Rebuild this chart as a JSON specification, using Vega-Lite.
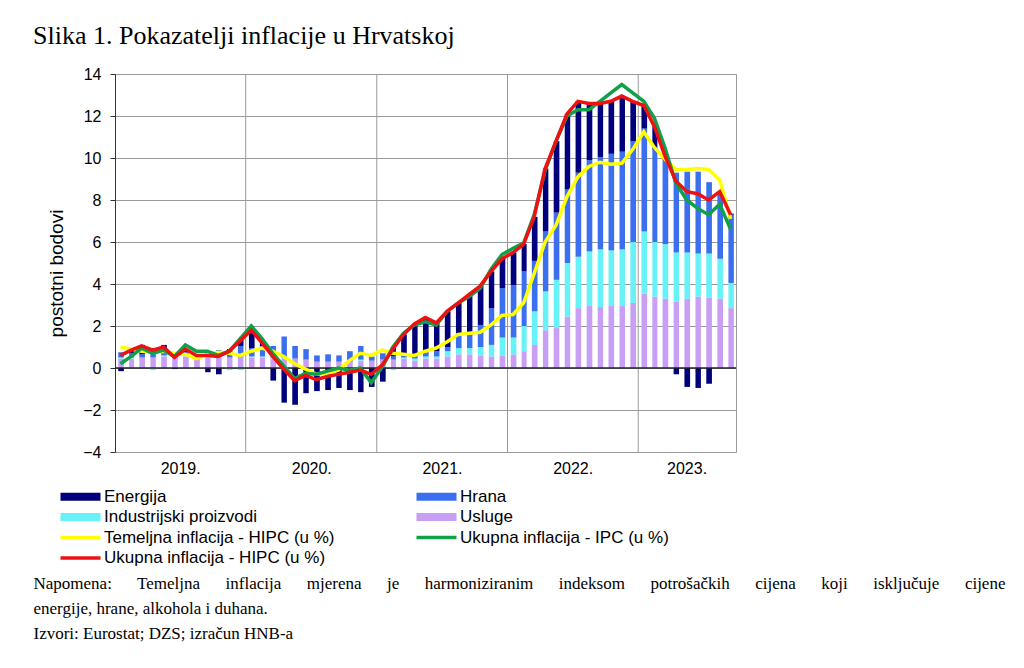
{
  "$schema": "https://vega.github.io/schema/vega-lite/v6.json",
  "width": 621,
  "height": 378,
  "autosize": "none",
  "padding": {"left": 115, "top": 74, "right": 288, "bottom": 216},
  "background": "white",
  "title": {
    "text": "Slika 1. Pokazatelji inflacije u Hrvatskoj",
    "anchor": "start",
    "frame": "group",
    "dx": -82,
    "offset": 17,
    "font": "Liberation Serif",
    "fontSize": 26,
    "fontWeight": "normal",
    "color": "black"
  },
  "data": {
    "values": [
      {"m": "2019-01-01", "Energija": -0.15, "Hrana": 0.25, "Industrijski proizvodi": 0.05, "Usluge": 0.45, "temeljna": 1.0, "ipc": 0.2, "hipc": 0.6},
      {"m": "2019-02-01", "Energija": 0.15, "Hrana": 0.2, "Industrijski proizvodi": 0.05, "Usluge": 0.45, "temeljna": 0.9, "ipc": 0.55, "hipc": 0.85},
      {"m": "2019-03-01", "Energija": 0.45, "Hrana": 0.15, "Industrijski proizvodi": 0.0, "Usluge": 0.5, "temeljna": 0.8, "ipc": 0.95, "hipc": 1.05},
      {"m": "2019-04-01", "Energija": 0.25, "Hrana": 0.2, "Industrijski proizvodi": -0.1, "Usluge": 0.5, "temeljna": 0.75, "ipc": 0.7, "hipc": 0.85},
      {"m": "2019-05-01", "Energija": 0.4, "Hrana": 0.1, "Industrijski proizvodi": 0.05, "Usluge": 0.55, "temeljna": 0.8, "ipc": 0.85, "hipc": 1.0},
      {"m": "2019-06-01", "Energija": -0.05, "Hrana": 0.1, "Industrijski proizvodi": 0.0, "Usluge": 0.5, "temeljna": 0.7, "ipc": 0.55, "hipc": 0.5},
      {"m": "2019-07-01", "Energija": 0.1, "Hrana": 0.15, "Industrijski proizvodi": 0.05, "Usluge": 0.55, "temeljna": 0.65, "ipc": 1.1, "hipc": 0.9},
      {"m": "2019-08-01", "Energija": 0.05, "Hrana": 0.1, "Industrijski proizvodi": 0.0, "Usluge": 0.45, "temeljna": 0.45, "ipc": 0.8, "hipc": 0.6},
      {"m": "2019-09-01", "Energija": -0.2, "Hrana": 0.25, "Industrijski proizvodi": 0.05, "Usluge": 0.5, "temeljna": 0.65, "ipc": 0.8, "hipc": 0.6},
      {"m": "2019-10-01", "Energija": -0.3, "Hrana": 0.3, "Industrijski proizvodi": 0.05, "Usluge": 0.5, "temeljna": 0.75, "ipc": 0.6, "hipc": 0.55},
      {"m": "2019-11-01", "Energija": 0.05, "Hrana": 0.35, "Industrijski proizvodi": -0.1, "Usluge": 0.5, "temeljna": 0.7, "ipc": 0.8, "hipc": 0.8},
      {"m": "2019-12-01", "Energija": 0.3, "Hrana": 0.5, "Industrijski proizvodi": -0.1, "Usluge": 0.55, "temeljna": 0.6, "ipc": 1.4, "hipc": 1.3},
      {"m": "2020-01-01", "Energija": 0.85, "Hrana": 0.4, "Industrijski proizvodi": 0.05, "Usluge": 0.5, "temeljna": 0.8, "ipc": 2.0, "hipc": 1.8},
      {"m": "2020-02-01", "Energija": 0.2, "Hrana": 0.5, "Industrijski proizvodi": 0.05, "Usluge": 0.5, "temeljna": 0.95, "ipc": 1.4, "hipc": 1.2},
      {"m": "2020-03-01", "Energija": -0.6, "Hrana": 0.55, "Industrijski proizvodi": 0.05, "Usluge": 0.45, "temeljna": 0.8, "ipc": 0.7, "hipc": 0.55},
      {"m": "2020-04-01", "Energija": -1.65, "Hrana": 1.0, "Industrijski proizvodi": 0.05, "Usluge": 0.45, "temeljna": 0.55, "ipc": 0.1, "hipc": -0.05},
      {"m": "2020-05-01", "Energija": -1.75, "Hrana": 0.6, "Industrijski proizvodi": 0.0, "Usluge": 0.45, "temeljna": 0.2, "ipc": -0.5, "hipc": -0.6},
      {"m": "2020-06-01", "Energija": -1.2, "Hrana": 0.5, "Industrijski proizvodi": 0.0, "Usluge": 0.4, "temeljna": -0.05, "ipc": -0.25, "hipc": -0.35},
      {"m": "2020-07-01", "Energija": -1.1, "Hrana": 0.3, "Industrijski proizvodi": 0.0, "Usluge": 0.3, "temeljna": -0.3, "ipc": -0.3, "hipc": -0.55},
      {"m": "2020-08-01", "Energija": -1.05, "Hrana": 0.35, "Industrijski proizvodi": 0.0, "Usluge": 0.3, "temeljna": -0.25, "ipc": -0.15, "hipc": -0.4},
      {"m": "2020-09-01", "Energija": -0.95, "Hrana": 0.3, "Industrijski proizvodi": 0.0, "Usluge": 0.3, "temeljna": -0.1, "ipc": 0.0, "hipc": -0.3},
      {"m": "2020-10-01", "Energija": -1.05, "Hrana": 0.5, "Industrijski proizvodi": 0.0, "Usluge": 0.3, "temeljna": 0.35, "ipc": -0.1, "hipc": -0.2},
      {"m": "2020-11-01", "Energija": -1.15, "Hrana": 0.65, "Industrijski proizvodi": 0.05, "Usluge": 0.35, "temeljna": 0.7, "ipc": 0.0, "hipc": -0.1},
      {"m": "2020-12-01", "Energija": -0.9, "Hrana": 0.2, "Industrijski proizvodi": 0.0, "Usluge": 0.35, "temeljna": 0.6, "ipc": -0.7, "hipc": -0.3},
      {"m": "2021-01-01", "Energija": -0.65, "Hrana": 0.3, "Industrijski proizvodi": 0.0, "Usluge": 0.4, "temeljna": 0.85, "ipc": 0.05, "hipc": 0.15},
      {"m": "2021-02-01", "Energija": 0.45, "Hrana": 0.15, "Industrijski proizvodi": -0.1, "Usluge": 0.4, "temeljna": 0.7, "ipc": 1.0, "hipc": 0.9},
      {"m": "2021-03-01", "Energija": 1.0, "Hrana": 0.1, "Industrijski proizvodi": 0.05, "Usluge": 0.45, "temeljna": 0.65, "ipc": 1.65, "hipc": 1.6},
      {"m": "2021-04-01", "Energija": 1.5, "Hrana": 0.15, "Industrijski proizvodi": 0.1, "Usluge": 0.35, "temeljna": 0.6, "ipc": 2.05, "hipc": 2.1},
      {"m": "2021-05-01", "Energija": 1.65, "Hrana": 0.2, "Industrijski proizvodi": 0.1, "Usluge": 0.45, "temeljna": 0.8, "ipc": 2.2, "hipc": 2.4},
      {"m": "2021-06-01", "Energija": 1.35, "Hrana": 0.25, "Industrijski proizvodi": 0.1, "Usluge": 0.45, "temeljna": 0.95, "ipc": 2.05, "hipc": 2.15},
      {"m": "2021-07-01", "Energija": 1.7, "Hrana": 0.2, "Industrijski proizvodi": 0.25, "Usluge": 0.55, "temeljna": 1.25, "ipc": 2.7, "hipc": 2.7},
      {"m": "2021-08-01", "Energija": 1.45, "Hrana": 0.7, "Industrijski proizvodi": 0.3, "Usluge": 0.65, "temeljna": 1.6, "ipc": 3.1, "hipc": 3.1},
      {"m": "2021-09-01", "Energija": 1.9, "Hrana": 0.65, "Industrijski proizvodi": 0.3, "Usluge": 0.65, "temeljna": 1.65, "ipc": 3.4, "hipc": 3.5},
      {"m": "2021-10-01", "Energija": 1.85, "Hrana": 1.05, "Industrijski proizvodi": 0.4, "Usluge": 0.6, "temeljna": 1.7, "ipc": 3.8, "hipc": 3.9},
      {"m": "2021-11-01", "Energija": 1.75, "Hrana": 1.75, "Industrijski proizvodi": 0.55, "Usluge": 0.55, "temeljna": 2.05, "ipc": 4.7, "hipc": 4.6},
      {"m": "2021-12-01", "Energija": 1.4, "Hrana": 2.35, "Industrijski proizvodi": 0.85, "Usluge": 0.6, "temeljna": 2.5, "ipc": 5.4, "hipc": 5.2},
      {"m": "2022-01-01", "Energija": 1.55, "Hrana": 2.5, "Industrijski proizvodi": 0.8, "Usluge": 0.65, "temeljna": 2.55, "ipc": 5.7, "hipc": 5.5},
      {"m": "2022-02-01", "Energija": 1.3, "Hrana": 2.6, "Industrijski proizvodi": 1.2, "Usluge": 0.8, "temeljna": 3.1, "ipc": 5.95, "hipc": 5.9},
      {"m": "2022-03-01", "Energija": 2.1, "Hrana": 2.4, "Industrijski proizvodi": 1.6, "Usluge": 1.1, "temeljna": 4.5, "ipc": 7.3, "hipc": 7.2},
      {"m": "2022-04-01", "Energija": 3.0, "Hrana": 2.85, "Industrijski proizvodi": 1.85, "Usluge": 1.8, "temeljna": 6.0, "ipc": 9.4, "hipc": 9.5},
      {"m": "2022-05-01", "Energija": 3.4, "Hrana": 3.2, "Industrijski proizvodi": 2.3, "Usluge": 1.9, "temeljna": 6.8, "ipc": 10.8, "hipc": 10.8},
      {"m": "2022-06-01", "Energija": 3.6, "Hrana": 3.5, "Industrijski proizvodi": 2.55, "Usluge": 2.45, "temeljna": 8.15, "ipc": 12.0, "hipc": 12.1},
      {"m": "2022-07-01", "Energija": 3.4, "Hrana": 4.0, "Industrijski proizvodi": 2.45, "Usluge": 2.85, "temeljna": 9.1, "ipc": 12.3, "hipc": 12.7},
      {"m": "2022-08-01", "Energija": 2.7, "Hrana": 4.35, "Industrijski proizvodi": 2.6, "Usluge": 2.95, "temeljna": 9.6, "ipc": 12.3, "hipc": 12.6},
      {"m": "2022-09-01", "Energija": 2.55, "Hrana": 4.4, "Industrijski proizvodi": 2.75, "Usluge": 2.9, "temeljna": 9.8, "ipc": 12.7, "hipc": 12.6},
      {"m": "2022-10-01", "Energija": 2.5, "Hrana": 4.6, "Industrijski proizvodi": 2.65, "Usluge": 2.95, "temeljna": 9.7, "ipc": 13.1, "hipc": 12.7},
      {"m": "2022-11-01", "Energija": 2.65, "Hrana": 4.65, "Industrijski proizvodi": 2.7, "Usluge": 2.95, "temeljna": 9.75, "ipc": 13.5, "hipc": 12.95},
      {"m": "2022-12-01", "Energija": 1.9, "Hrana": 4.8, "Industrijski proizvodi": 2.9, "Usluge": 3.1, "temeljna": 10.4, "ipc": 13.1, "hipc": 12.7},
      {"m": "2023-01-01", "Energija": 1.1, "Hrana": 4.9, "Industrijski proizvodi": 2.95, "Usluge": 3.55, "temeljna": 11.25, "ipc": 12.7, "hipc": 12.5},
      {"m": "2023-02-01", "Energija": 1.1, "Hrana": 4.4, "Industrijski proizvodi": 2.6, "Usluge": 3.4, "temeljna": 10.5, "ipc": 11.9, "hipc": 11.5},
      {"m": "2023-03-01", "Energija": 0.2, "Hrana": 4.0, "Industrijski proizvodi": 2.6, "Usluge": 3.3, "temeljna": 9.95, "ipc": 10.5, "hipc": 10.1},
      {"m": "2023-04-01", "Energija": -0.3, "Hrana": 3.8, "Industrijski proizvodi": 2.35, "Usluge": 3.15, "temeljna": 9.45, "ipc": 8.8, "hipc": 8.9},
      {"m": "2023-05-01", "Energija": -0.9, "Hrana": 3.85, "Industrijski proizvodi": 2.2, "Usluge": 3.3, "temeljna": 9.45, "ipc": 8.0, "hipc": 8.4},
      {"m": "2023-06-01", "Energija": -0.95, "Hrana": 3.9, "Industrijski proizvodi": 2.05, "Usluge": 3.4, "temeljna": 9.5, "ipc": 7.6, "hipc": 8.3},
      {"m": "2023-07-01", "Energija": -0.75, "Hrana": 3.4, "Industrijski proizvodi": 2.1, "Usluge": 3.35, "temeljna": 9.45, "ipc": 7.3, "hipc": 8.0},
      {"m": "2023-08-01", "Energija": 0.1, "Hrana": 3.1, "Industrijski proizvodi": 1.9, "Usluge": 3.3, "temeljna": 8.95, "ipc": 7.8, "hipc": 8.4},
      {"m": "2023-09-01", "Energija": 0.05, "Hrana": 3.25, "Industrijski proizvodi": 1.2, "Usluge": 2.85, "temeljna": 7.1, "ipc": 6.6, "hipc": 7.3}
    ]
  },
  "layer": [
    {
      "data": {"values": [{"g": "2020-01-01"}, {"g": "2021-01-01"}, {"g": "2022-01-01"}, {"g": "2023-01-01"}]},
      "mark": {"type": "rule", "color": "#9a9a9a", "strokeWidth": 1},
      "encoding": {
        "x": {"field": "g", "type": "temporal"}
      }
    },
    {
      "transform": [{"fold": ["Usluge", "Industrijski proizvodi", "Hrana", "Energija"], "as": ["komponenta", "vrijednost"]}],
      "mark": {"type": "bar", "width": {"band": 0.6}},
      "encoding": {
        "x": {
          "field": "m",
          "timeUnit": "utcyearmonth",
          "type": "temporal",
          "scale": {"type": "utc", "domain": [{"year": 2019, "month": 1, "date": 1, "utc": true}, {"year": 2023, "month": 10, "date": 1, "utc": true}]},
          "axis": {
            "values": [
              {"year": 2019, "month": 7, "date": 2, "utc": true},
              {"year": 2020, "month": 7, "date": 2, "utc": true},
              {"year": 2021, "month": 7, "date": 2, "utc": true},
              {"year": 2022, "month": 7, "date": 2, "utc": true},
              {"year": 2023, "month": 5, "date": 16, "utc": true}
            ],
            "labelExpr": "utcFormat(datum.value, '%Y') + '.'",
            "ticks": false,
            "grid": false,
            "domain": false,
            "labelPadding": 8,
            "labelFont": "Liberation Sans",
            "labelFontSize": 16,
            "labelColor": "black",
            "title": [
              "Napomena:\u00a0\u00a0\u00a0\u00a0\u00a0 Temeljna\u00a0\u00a0\u00a0\u00a0\u00a0 inflacija\u00a0\u00a0\u00a0\u00a0\u00a0 mjerena\u00a0\u00a0\u00a0\u00a0\u00a0 je\u00a0\u00a0\u00a0\u00a0\u00a0 harmoniziranim\u00a0\u00a0\u00a0\u00a0\u00a0 indeksom\u00a0\u00a0\u00a0\u00a0\u00a0 potrošačkih\u00a0\u00a0\u00a0\u00a0\u00a0 cijena\u00a0\u00a0\u00a0\u00a0\u00a0 koji\u00a0\u00a0\u00a0\u00a0\u00a0 isključuje\u00a0\u00a0\u00a0\u00a0\u00a0 cijene",
              "energije, hrane, alkohola i duhana.",
              "Izvori: Eurostat; DZS; izračun HNB-a"
            ],
            "titleFont": "Liberation Serif",
            "titleFontSize": 17,
            "titleFontWeight": "normal",
            "titleColor": "black",
            "titleAlign": "left",
            "titleAnchor": "start",
            "titleX": -82,
            "titleY": 136,
            "titleBaseline": "alphabetic",
            "titleLineHeight": 25
          }
        },
        "y": {
          "field": "vrijednost",
          "type": "quantitative",
          "stack": "zero",
          "scale": {"domain": [-4, 14], "nice": false},
          "axis": {
            "values": [-4, -2, 0, 2, 4, 6, 8, 10, 12, 14],
            "title": "postotni bodovi",
            "titleFont": "Liberation Sans",
            "titleFontSize": 19,
            "titleFontWeight": "normal",
            "titleColor": "black",
            "titleX": -49,
            "titleY": 199,
            "titleAngle": 270,
            "titleAlign": "center",
            "titleBaseline": "bottom",
            "labelFont": "Liberation Sans",
            "labelFontSize": 16,
            "labelColor": "black",
            "labelPadding": 9,
            "tickSize": 5,
            "tickColor": "#333333",
            "domainColor": "#333333",
            "gridColor": "#9a9a9a",
            "gridOpacity": 1
          }
        },
        "color": {
          "field": "komponenta",
          "type": "nominal",
          "scale": {
            "domain": ["Energija", "Hrana", "Industrijski proizvodi", "Usluge", "Temeljna inflacija - HIPC (u %)", "Ukupna inflacija - IPC (u %)", "Ukupna inflacija - HIPC (u %)"],
            "range": ["#00007d", "#3b6ff0", "#66f2f7", "#c99ff5", "#ffff00", "#10a04a", "#ee1111"]
          },
          "legend": {
            "orient": "none",
            "legendX": -58,
            "legendY": 414,
            "direction": "horizontal",
            "columns": 2,
            "title": null,
            "symbolType": "M-1,-0.8H7V0.8H-1Z",
            "symbolSize": 100,
            "symbolStrokeWidth": 0,
            "symbolOpacity": 1,
            "labelFont": "Liberation Sans",
            "labelFontSize": 17,
            "labelColor": "black",
            "labelOffset": 30,
            "labelLimit": 400,
            "rowPadding": 2.5,
            "columnPadding": 78,
            "encode": {
              "symbols": {
                "update": {
                  "shape": {"signal": "indexof(datum.label, 'inflacija') >= 0 ? 'M-1,-0.35H7V0.35H-1Z' : 'M-1,-0.8H7V0.8H-1Z'"},
                  "fill": {"scale": "color", "field": "value"},
                  "stroke": {"value": "transparent"},
                  "opacity": {"value": 1}
                }
              }
            }
          }
        },
        "order": {"field": "komponenta", "sort": "descending"}
      }
    },
    {
      "data": {"values": [{}]},
      "mark": {"type": "rule", "color": "#222222", "strokeWidth": 1.5},
      "encoding": {"y": {"datum": 0, "type": "quantitative"}}
    },
    {
      "mark": {"type": "line", "strokeWidth": 3.5},
      "encoding": {
        "x": {"field": "m", "timeUnit": "utcyearmonth", "type": "temporal", "bandPosition": 0.5},
        "y": {"field": "temeljna", "type": "quantitative"},
        "color": {"datum": "Temeljna inflacija - HIPC (u %)"}
      }
    },
    {
      "mark": {"type": "line", "strokeWidth": 3.5},
      "encoding": {
        "x": {"field": "m", "timeUnit": "utcyearmonth", "type": "temporal", "bandPosition": 0.5},
        "y": {"field": "ipc", "type": "quantitative"},
        "color": {"datum": "Ukupna inflacija - IPC (u %)"}
      }
    },
    {
      "mark": {"type": "line", "strokeWidth": 3.5},
      "encoding": {
        "x": {"field": "m", "timeUnit": "utcyearmonth", "type": "temporal", "bandPosition": 0.5},
        "y": {"field": "hipc", "type": "quantitative"},
        "color": {"datum": "Ukupna inflacija - HIPC (u %)"}
      }
    }
  ],
  "config": {
    "view": {"stroke": "#9a9a9a", "strokeWidth": 1},
    "axis": {"gridColor": "#9a9a9a", "gridOpacity": 1}
  }
}
